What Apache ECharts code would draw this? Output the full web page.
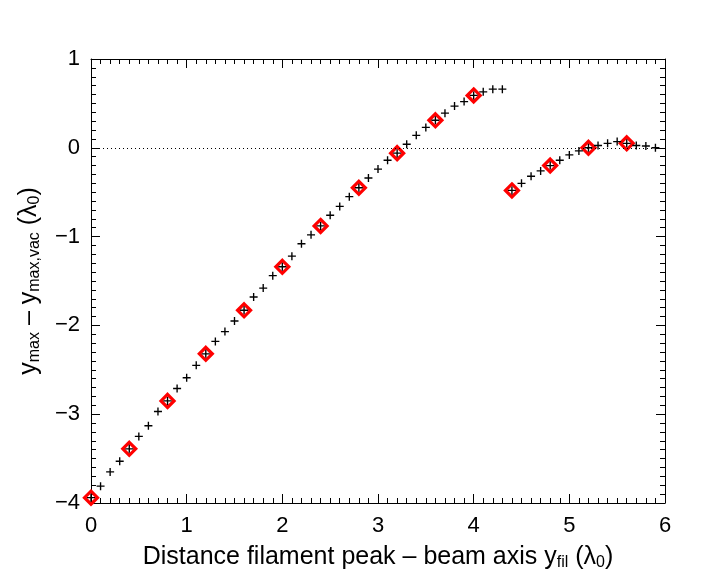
<!DOCTYPE html>
<html>
<head>
<meta charset="utf-8">
<script src="https://cdn.jsdelivr.net/npm/echarts@6/dist/echarts.min.js"></script>
<style>
  html, body { margin: 0; padding: 0; background: #fff; }
  #chart { width: 717px; height: 573px; }
</style>
</head>
<body>
<div id="chart"></div>
<script>
// crosses, first branch
const branch1X = [0.0, 0.1, 0.2, 0.3, 0.4, 0.5, 0.6, 0.7, 0.8, 0.9,
                  1.0, 1.1, 1.2, 1.3, 1.4, 1.5, 1.6, 1.7, 1.8, 1.9,
                  2.0, 2.1, 2.2, 2.3, 2.4, 2.5, 2.6, 2.7, 2.8, 2.9,
                  3.0, 3.1, 3.2, 3.3, 3.4, 3.5, 3.6, 3.7, 3.8, 3.9,
                  4.0, 4.1, 4.2, 4.3];
const branch1Y = [-3.94, -3.81, -3.65, -3.53, -3.39, -3.25, -3.13, -2.97, -2.85, -2.71,
                  -2.59, -2.45, -2.32, -2.18, -2.07, -1.95, -1.83, -1.68, -1.58, -1.44,
                  -1.34, -1.22, -1.08, -0.98, -0.88, -0.76, -0.66, -0.55, -0.45, -0.34,
                  -0.24, -0.14, -0.06, 0.04, 0.14, 0.23, 0.31, 0.39, 0.47, 0.52,
                  0.59, 0.63, 0.66, 0.66];
// crosses, second branch
const branch2X = [4.4, 4.5, 4.6, 4.7, 4.8, 4.9, 5.0, 5.1, 5.2, 5.3, 5.4, 5.5, 5.6, 5.7, 5.8, 5.9];
const branch2Y = [-0.48, -0.40, -0.32, -0.26, -0.20, -0.14, -0.08, -0.035, 0.00, 0.026, 0.05, 0.07, 0.05, 0.026, 0.02, 0.00];
// red diamonds
const diamondX = [0.0, 0.4, 0.8, 1.2, 1.6, 2.0, 2.4, 2.8, 3.2, 3.6, 4.0, 4.4, 4.8, 5.2, 5.6];
const diamondY = [-3.94, -3.39, -2.85, -2.32, -1.83, -1.34, -0.88, -0.45, -0.06, 0.31, 0.59, -0.48, -0.20, 0.00, 0.05];

const zip = (xs, ys) => xs.map((x, i) => [x, ys[i]]);
const crossData = zip(branch1X, branch1Y).concat(zip(branch2X, branch2Y));
const diamondData = zip(diamondX, diamondY);

const FONT = 'Liberation Sans';
const plus = 'path://M-1,-0.17H1V0.17H-1Z M-0.17,-1H0.17V1H-0.17Z';

const minus = v => String(v).replace('-', '\u2212');

const baseAxis = {
    axisLine: { show: true, onZero: false, lineStyle: { color: '#000', width: 1 } },
    axisTick: { show: true, inside: true, length: 9, lineStyle: { color: '#000', width: 1 } },
    minorTick: { show: true, splitNumber: 10, length: 5, lineStyle: { color: '#000', width: 1 } },
    splitLine: { show: false },
    minorSplitLine: { show: false }
};

const nameRich = {
    a: { fontFamily: FONT, fontSize: 25, color: '#000', lineHeight: 28 },
    s: { fontFamily: FONT, fontSize: 16, color: '#000', lineHeight: 28, padding: [12, 0, 0, 0] }
};

const chart = echarts.init(document.getElementById('chart'));
const option = {
    backgroundColor: '#fff',
    animation: false,
    grid: { left: 91, right: 52, top: 59, bottom: 70, containLabel: false, outerBoundsMode: 'none' },
    xAxis: [
        Object.assign({}, baseAxis, {
            type: 'value', min: 0, max: 6, interval: 1, position: 'bottom',
            axisLabel: { color: '#000', fontFamily: FONT, fontSize: 22, margin: 12 },
            name: '{a|Distance filament peak \u2013 beam axis y}{s|fil}{a| (\u03bb}{s|0}{a|)}',
            nameLocation: 'middle',
            nameGap: 40,
            nameTextStyle: { rich: nameRich }
        }),
        Object.assign({}, baseAxis, {
            type: 'value', min: 0, max: 6, interval: 1, position: 'top',
            axisLabel: { show: false }
        })
    ],
    yAxis: [
        Object.assign({}, baseAxis, {
            type: 'value', min: -4, max: 1, interval: 1, position: 'left',
            axisLabel: { color: '#000', fontFamily: FONT, fontSize: 22, margin: 11, formatter: minus },
            name: '{a|y}{s|max}{a| \u2013 y}{s|max,vac}{a| (\u03bb}{s|0}{a|)}',
            nameLocation: 'middle',
            nameGap: 48,
            nameRotate: 90,
            nameTextStyle: { rich: nameRich }
        }),
        Object.assign({}, baseAxis, {
            type: 'value', min: -4, max: 1, interval: 1, position: 'right',
            axisLabel: { show: false }
        })
    ],
    series: [
        {
            type: 'line',
            data: [],
            silent: true,
            markLine: {
                silent: true,
                symbol: 'none',
                label: { show: false },
                lineStyle: { color: '#000', width: 1, type: [1, 3] },
                data: [{ yAxis: 0 }]
            }
        },
        {
            type: 'scatter',
            data: diamondData,
            symbol: 'diamond',
            symbolSize: 13,
            itemStyle: { color: 'rgba(0,0,0,0)', borderColor: '#ff0000', borderWidth: 3.2, opacity: 1 },
            z: 2
        },
        {
            type: 'scatter',
            data: crossData,
            symbol: plus,
            symbolSize: 8,
            itemStyle: { color: '#000', opacity: 1 },
            z: 3
        }
    ]
};
chart.setOption(option);
</script>
</body>
</html>
